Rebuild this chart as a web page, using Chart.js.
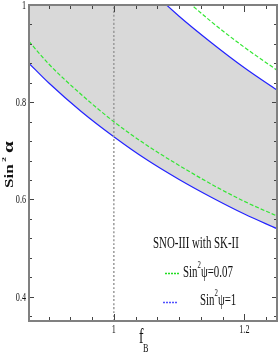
<!DOCTYPE html>
<html>
<head>
<meta charset="utf-8">
<script src="https://cdn.jsdelivr.net/npm/chart.js@4.4.1/dist/chart.umd.min.js"></script>
<style>
    html, body { margin: 0; padding: 0; background: #fff; }
</style>
</head>
<body>
<canvas id="chart" width="278" height="354"></canvas>
<script>
    'use strict';

    // values
    const F_B = [0.87, 0.9, 0.95, 1.0, 1.05, 1.1, 1.15, 1.2, 1.25];
    const BLUE_LOW = [0.880, 0.840, 0.781, 0.729, 0.682, 0.641, 0.604, 0.570, 0.540];
    const BLUE_HIGH = [1.332, 1.274, 1.186, 1.108, 1.039, 0.977, 0.922, 0.871, 0.825];
    const GREEN_LOW = [0.925, 0.879, 0.816, 0.760, 0.712, 0.670, 0.631, 0.596, 0.566];
    const GREEN_HIGH = [1.387, 1.327, 1.237, 1.157, 1.086, 1.023, 0.965, 0.913, 0.866];
    const F_B_MARK = [1, 1];
    const F_B_MARK_Y = [0.35, 1];

    const X_LABELS = [1, 1.2];
    const Y_LABELS = [0.4, 0.6, 0.8, 1];
    const X_MINOR_STEP = 1 / 30;
    const Y_MINOR_STEP = 0.04;

    const SERIF = "'Liberation Serif', 'DejaVu Serif', serif";
    const SQUEEZE = 0.68;

    function points(xs, ys) {
        return xs.map((x, i) => ({ x: x, y: ys[i] }));
    }

    // draws a run of text pieces, squeezed sideways like the original
    function drawRuns(ctx, runs, x, y, sx) {
        ctx.save();
        ctx.translate(x, y);
        ctx.scale(sx, 1);
        let cx = 0;
        runs.forEach((r) => {
            ctx.font = r.font;
            ctx.fillText(r.t, cx, r.dy || 0);
            cx += ctx.measureText(r.t).width;
        });
        ctx.restore();
    }

    function runsWidth(ctx, runs, sx) {
        let w = 0;
        runs.forEach((r) => {
            ctx.font = r.font;
            w += ctx.measureText(r.t).width;
        });
        return w * sx;
    }

    const framePlugin = {
        id: 'frame',
        afterDatasetsDraw(chart) {
            const ctx = chart.ctx;
            const a = chart.chartArea;
            const xs = chart.scales.x;
            const ys = chart.scales.y;

            ctx.save();
            ctx.strokeStyle = '#444';
            ctx.lineWidth = 1;
            ctx.beginPath();
            for (let k = -6; k <= 10; k++) {
                const v = 1 + k * X_MINOR_STEP;
                const px = Math.round(xs.getPixelForValue(v)) + 0.5;
                if (px <= a.left + 1 || px >= a.right - 1) continue;
                const major = X_LABELS.some((m) => Math.abs(m - v) < 1e-6);
                const len = major ? 7 : 4;
                ctx.moveTo(px, a.bottom);
                ctx.lineTo(px, a.bottom - len);
                ctx.moveTo(px, a.top);
                ctx.lineTo(px, a.top + len);
            }
            for (let k = 0; k <= 20; k++) {
                const v = 0.36 + k * Y_MINOR_STEP;
                const py = Math.round(ys.getPixelForValue(v)) + 0.5;
                if (py <= a.top + 1 || py >= a.bottom - 1) continue;
                const major = Y_LABELS.some((m) => Math.abs(m - v) < 1e-6);
                const len = major ? 5 : 3;
                ctx.moveTo(a.left, py);
                ctx.lineTo(a.left + len, py);
                ctx.moveTo(a.right, py);
                ctx.lineTo(a.right - len, py);
            }
            ctx.stroke();

            ctx.strokeStyle = '#808080';
            ctx.lineWidth = 2;
            ctx.strokeRect(a.left, a.top, a.right - a.left, a.bottom - a.top);
            ctx.restore();
        },
        afterDraw(chart) {
            const ctx = chart.ctx;
            const a = chart.chartArea;
            const xs = chart.scales.x;
            const ys = chart.scales.y;

            ctx.save();
            ctx.fillStyle = '#111';
            ctx.textBaseline = 'alphabetic';

            // tick labels
            const tickFont = '12px ' + SERIF;
            Y_LABELS.forEach((v) => {
                const runs = [{ t: String(v), font: tickFont }];
                const w = runsWidth(ctx, runs, SQUEEZE);
                drawRuns(ctx, runs, a.left - 3 - w, ys.getPixelForValue(v) + 4, SQUEEZE);
            });
            X_LABELS.forEach((v) => {
                const runs = [{ t: String(v), font: tickFont }];
                const w = runsWidth(ctx, runs, SQUEEZE);
                drawRuns(ctx, runs, xs.getPixelForValue(v) - w / 2, a.bottom + 12, SQUEEZE);
            });

            // axis titles
            drawRuns(ctx, [{ t: 'f', font: '20px ' + SERIF }], 139, 343, SQUEEZE);
            drawRuns(ctx, [{ t: 'B', font: '12px ' + SERIF }], 143, 352, SQUEEZE);

            ctx.save();
            ctx.translate(13, 188);
            ctx.rotate(-Math.PI / 2);
            ctx.scale(1, SQUEEZE);
            ctx.font = 'bold 17px ' + SERIF;
            ctx.fillText('Sin', 0, 0);
            ctx.font = 'bold 10px ' + SERIF;
            ctx.fillText('2', 26, -10);
            ctx.font = 'bold 21px ' + SERIF;
            ctx.fillText('α', 35, 0);
            ctx.restore();

            // legend
            const big = '16px ' + SERIF;
            const small = '10px ' + SERIF;
            drawRuns(ctx, [{ t: 'SNO-III with SK-II', font: big }], 153, 248, SQUEEZE);

            ctx.lineWidth = 1.3;
            ctx.setLineDash([2, 1]);
            ctx.strokeStyle = '#22dd22';
            ctx.beginPath();
            ctx.moveTo(165, 273.5);
            ctx.lineTo(180, 273.5);
            ctx.stroke();
            ctx.strokeStyle = '#5050ff';
            ctx.beginPath();
            ctx.moveTo(163, 302.5);
            ctx.lineTo(178, 302.5);
            ctx.stroke();
            ctx.setLineDash([]);

            drawRuns(ctx, [
                { t: 'Sin', font: big },
                { t: '2', font: small, dy: -9 },
                { t: 'ψ=0.07', font: big },
            ], 183, 277, SQUEEZE);
            drawRuns(ctx, [
                { t: 'Sin', font: big },
                { t: '2', font: small, dy: -9 },
                { t: 'ψ=1', font: big },
            ], 200, 305, SQUEEZE);

            ctx.restore();
        },
    };

    const lineStyle = {
        pointRadius: 0,
        cubicInterpolationMode: 'monotone',
        fill: false,
        clip: 0,
    };

    new Chart(document.getElementById('chart'), {
        type: 'line',
        data: {
            datasets: [
                Object.assign({}, lineStyle, {
                    data: points(F_B_MARK, F_B_MARK_Y),
                    borderColor: '#9a9a9a',
                    borderWidth: 1.5,
                    borderDash: [2, 2],
                }),
                Object.assign({}, lineStyle, {
                    data: points(F_B, GREEN_LOW),
                    borderColor: '#33e633',
                    borderWidth: 1.2,
                    borderDash: [4, 2],
                }),
                Object.assign({}, lineStyle, {
                    data: points(F_B, GREEN_HIGH),
                    borderColor: '#33e633',
                    borderWidth: 1.2,
                    borderDash: [4, 2],
                }),
                Object.assign({}, lineStyle, {
                    data: points(F_B, BLUE_HIGH),
                    borderColor: '#2323ff',
                    borderWidth: 1.2,
                }),
                Object.assign({}, lineStyle, {
                    data: points(F_B, BLUE_LOW),
                    borderColor: '#2323ff',
                    borderWidth: 1.2,
                    fill: '-1',
                    backgroundColor: '#d9d9d9',
                }),
            ],
        },
        options: {
            responsive: false,
            animation: false,
            devicePixelRatio: 1,
            layout: { padding: { top: 5, right: 1, left: 0, bottom: 0 } },
            plugins: {
                legend: { display: false },
                tooltip: { enabled: false },
                filler: { drawTime: 'beforeDatasetsDraw' },
            },
            scales: {
                x: {
                    type: 'linear',
                    min: 0.87,
                    max: 1.25,
                    grid: { display: false },
                    border: { display: false },
                    ticks: { display: false },
                    afterFit(scale) { scale.height = 33; },
                },
                y: {
                    type: 'linear',
                    min: 0.35,
                    max: 1,
                    grid: { display: false },
                    border: { display: false },
                    ticks: { display: false },
                    afterFit(scale) { scale.width = 29; },
                },
            },
        },
        plugins: [framePlugin],
    });
</script>
</body>
</html>
